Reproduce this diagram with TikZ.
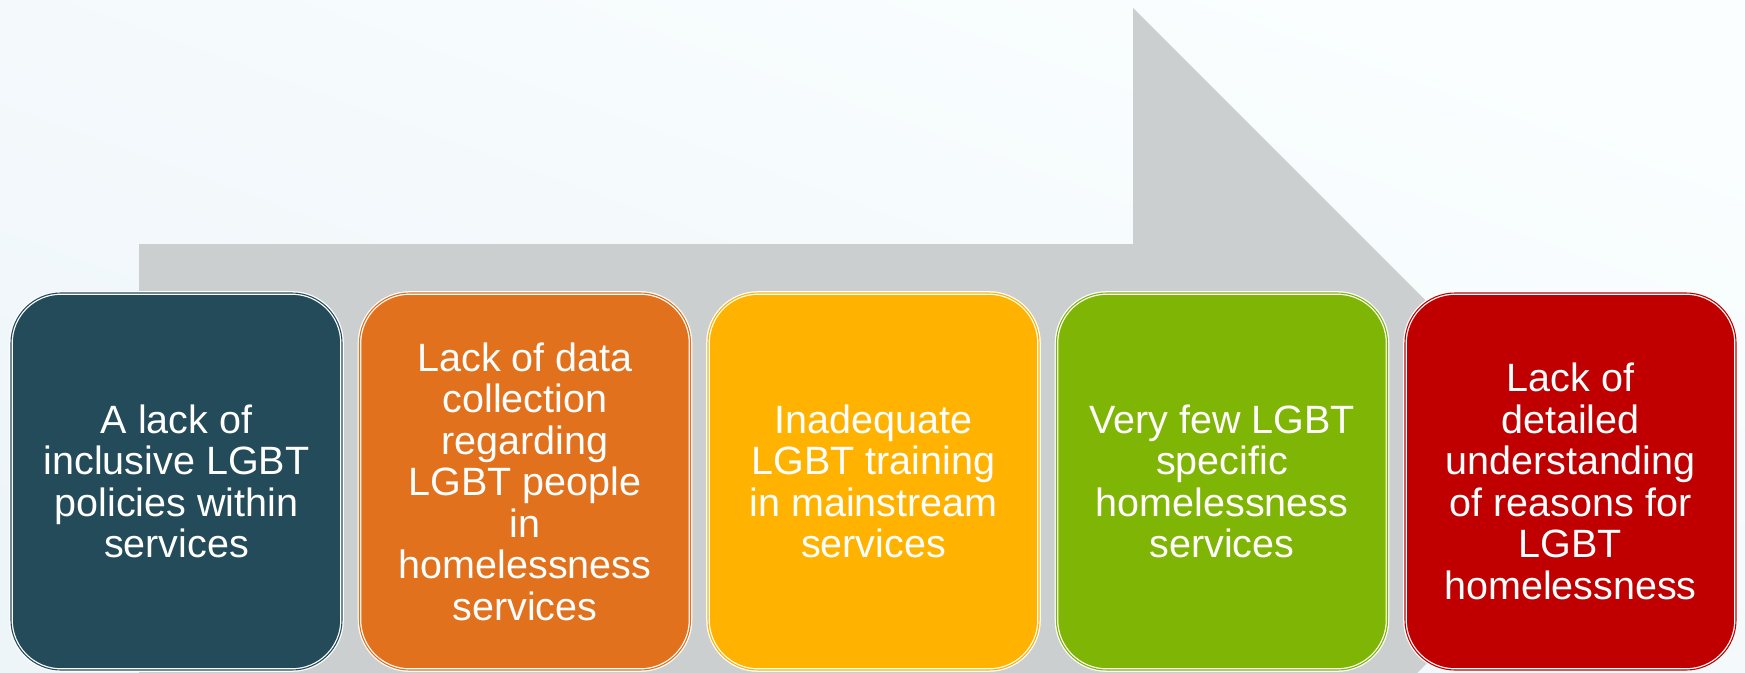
\documentclass[tikz,border=0pt]{standalone}
\usepackage{fontspec}
\setmainfont{Liberation Sans}
\definecolor{bgtop}{RGB}{250,254,255}
\definecolor{bgbot}{RGB}{238,245,249}
\definecolor{arrowgray}{RGB}{204,207,208}
\definecolor{cteal}{RGB}{36,75,90}
\definecolor{corange}{RGB}{226,113,29}
\definecolor{camber}{RGB}{255,179,0}
\definecolor{cgreen}{RGB}{127,181,4}
\definecolor{cred}{RGB}{192,0,0}
\tikzset{
  card/.style={rounded corners=50pt, minimum width=331pt, minimum height=377pt,
    inner sep=0pt, text=white, align=center,
    font=\fontsize{39.5}{41.5}\selectfont,
    fill=#1, draw=white, line width=3.6pt,
    postaction={draw=#1, line width=1.1pt}},
}
\begin{document}
\begin{tikzpicture}[x=1pt,y=-1pt]
\useasboundingbox (0,0) rectangle (1745,672);
\clip (0,0) rectangle (1745,672);
\shade[top color=bgtop, bottom color=bgbot, shading angle=-20] (0,0) rectangle (1745,672);
\fill[arrowgray] (139,244) -- (1133,244) -- (1133,8) -- (1607.5,482.5) -- (1133,957) -- (1133,721) -- (139,721) -- cycle;
\node[card=cteal]   (b1) at (176.5,481.5) {A lack of\\inclusive LGBT\\policies within\\services};
\node[card=corange] (b2) at (525,481.5) {Lack of data\\collection\\regarding\\LGBT people\\in\\homelessness\\services};
\node[card=camber]  (b3) at (873.5,481.5) {Inadequate\\LGBT training\\in mainstream\\services};
\node[card=cgreen]  (b4) at (1222,481.5) {Very few LGBT\\specific\\homelessness\\services};
\node[card=cred]    (b5) at (1570.5,481.5) {Lack of\\detailed\\understanding\\of reasons for\\LGBT\\homelessness};
\end{tikzpicture}
\end{document}
